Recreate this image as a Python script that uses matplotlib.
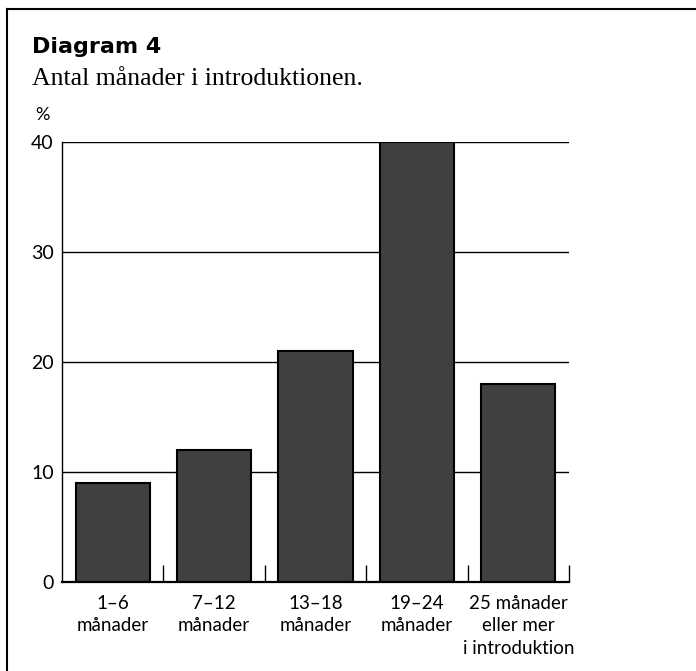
import numpy as np
import matplotlib
matplotlib.use("Agg")
from matplotlib import pyplot as plt
from matplotlib.lines import Line2D

# data
categories = ["1–6\nmånader", "7–12\nmånader", "13–18\nmånader",
              "19–24\nmånader", "25 månader\neller mer\ni introduktion"]
values = [9, 12, 21, 40, 18]
yticks = [0, 10, 20, 30, 40]

fig = plt.figure(figsize=(6.96, 6.71), dpi=100)
ax = fig.add_axes([0.0891, 0.1326, 0.7284, 0.6557])

x = np.arange(len(categories))
for y in yticks[1:]:
    ax.axhline(y, color="black", lw=1.0, zorder=0)
ax.bar(x, values, width=0.73, color="#404040", edgecolor="black", lw=1.5, zorder=2)

ax.set_xlim(-0.5, len(categories) - 0.5)
ax.set_ylim(0, 40)
for s in ["top", "right"]:
    ax.spines[s].set_visible(False)
ax.spines["left"].set_linewidth(1.0)
ax.spines["bottom"].set_linewidth(1.6)

ax.set_yticks(yticks)
ax.set_yticklabels([str(v) for v in yticks], fontfamily="Lato", fontsize=14)
ax.tick_params(axis="y", length=0, pad=6)

ax.set_xticks(x)
ax.set_xticklabels(categories, fontfamily="Lato", fontsize=13.5, linespacing=1.4)
ax.tick_params(axis="x", length=0, pad=9)
ax.set_xticks(np.arange(0.5, len(categories)), minor=True)
ax.tick_params(axis="x", which="minor", direction="in", length=12, width=1.0)

fig.text(42 / 696, 1 - 115 / 671, "%", fontfamily="Lato", fontsize=13,
         ha="center", va="center")
fig.text(32 / 696, 1 - 53 / 671, "Diagram 4", fontfamily="DejaVu Sans", fontweight="bold",
         fontsize=16, ha="left", va="baseline")
fig.text(32 / 696, 1 - 85 / 671, "Antal månader i introduktionen.",
         fontfamily="Liberation Serif", fontsize=18.5, ha="left", va="baseline")

# frame lines at the top and left edge
fig.add_artist(Line2D([7 / 696, 1], [1 - 9 / 671, 1 - 9 / 671], color="black", lw=1.5))
fig.add_artist(Line2D([7 / 696, 7 / 696], [0, 1 - 9 / 671], color="black", lw=1.5))

fig.savefig("out.png", dpi=100)
